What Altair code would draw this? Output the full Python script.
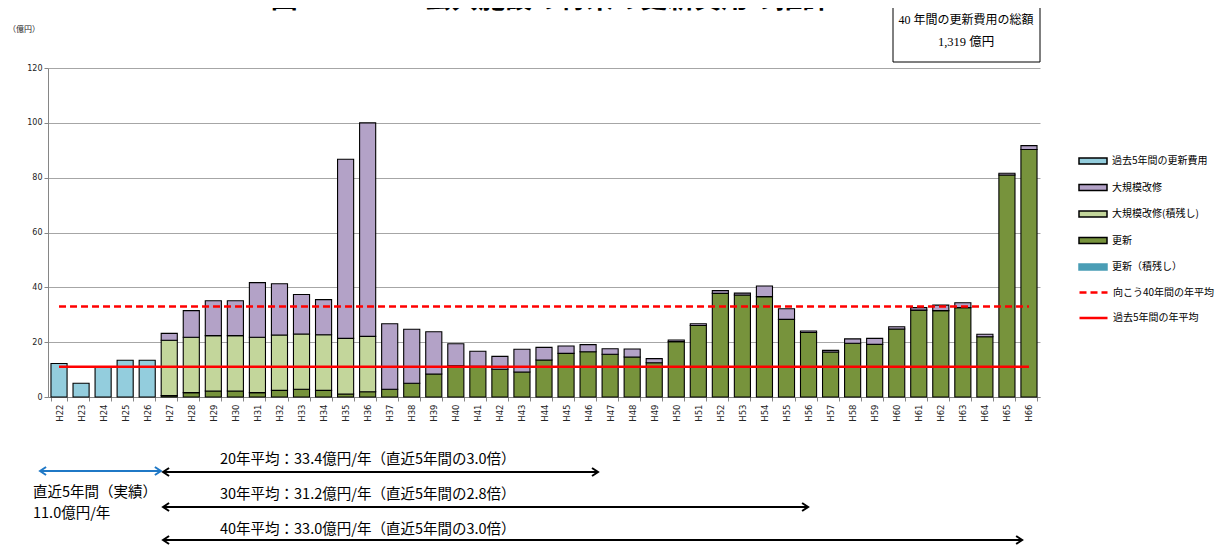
import altair as alt
import pandas as pd

JP = "Noto Sans CJK JP"
SERIF = "Liberation Serif, Noto Sans CJK JP"

years = ["H22", "H23", "H24", "H25", "H26", "H27", "H28", "H29", "H30", "H31",
         "H32", "H33", "H34", "H35", "H36", "H37", "H38", "H39", "H40", "H41",
         "H42", "H43", "H44", "H45", "H46", "H47", "H48", "H49", "H50", "H51",
         "H52", "H53", "H54", "H55", "H56", "H57", "H58", "H59", "H60", "H61",
         "H62", "H63", "H64", "H65", "H66"]
past_years = years[:5]
future_years = years[5:]
backlog_years = years[5:15]

# 過去5年間の更新費用 (H22-H26)
past_cost = [12.2, 5.0, 11.0, 13.4, 13.4]
# 更新 (H27-H66)
renewal = [0.5, 1.6, 2.2, 2.2, 1.6, 2.4, 2.8, 2.4, 1.1, 1.9,
           2.8, 5.0, 8.4, 11.4, 11.2, 10.1, 9.1, 13.5, 15.9, 16.5,
           15.6, 14.6, 12.5, 20.2, 26.1, 37.8, 37.2, 36.6, 28.3, 23.5,
           16.4, 19.6, 19.2, 24.8, 31.7, 31.5, 32.6, 22.0, 81.0, 90.3]
# 大規模改修(積残し) (H27-H36)
repair_backlog = [20.2, 20.2, 20.2, 20.2, 20.2, 20.2, 20.2, 20.3, 20.3, 20.2]
# 大規模改修 (H27-H66)
repair = [2.5, 9.7, 12.7, 12.7, 19.9, 18.7, 14.4, 12.8, 65.3, 77.9,
          23.9, 19.7, 15.4, 8.0, 5.5, 4.7, 8.3, 4.6, 2.7, 2.6,
          2.0, 2.9, 1.5, 0.6, 0.6, 1.0, 0.7, 3.9, 3.9, 0.6,
          0.6, 1.6, 2.2, 0.8, 0.9, 2.0, 1.8, 0.9, 0.6, 1.4]

series_names = ["過去5年間の更新費用", "大規模改修", "大規模改修(積残し)", "更新", "更新（積残し）"]
series_colors = ["#93CDDD", "#B3A2C7", "#C3D69B", "#77933C", "#4A9DB5"]
series_strokes = ["#000000", "#000000", "#000000", "#000000", "#4A9DB5"]
stack_rank = {"過去5年間の更新費用": 0, "更新": 1, "大規模改修(積残し)": 2, "大規模改修": 3, "更新（積残し）": 4}

line_names = ["向こう40年間の年平均", "過去5年間の年平均"]
line_values = [33.0, 11.0]

y_ticks = [0, 20, 40, 60, 80, 100, 120]

rows = []
for y, v in zip(past_years, past_cost):
    rows.append((y, series_names[0], v))
for y, v in zip(future_years, renewal):
    rows.append((y, "更新", v))
for y, v in zip(backlog_years, repair_backlog):
    rows.append((y, "大規模改修(積残し)", v))
for y, v in zip(future_years, repair):
    rows.append((y, "大規模改修", v))
df = pd.DataFrame(rows, columns=["year", "series", "value"])
df = df[df["value"] > 0]
df["rank"] = df["series"].map(stack_rank)

band = dict(domain=years, paddingInner=0.27, paddingOuter=0.135)

bar_legend = dict(title=None, orient="none", legendX=1030, legendY=78,
                  symbolType="M-1,-0.2143H1V0.2143H-1Z", symbolSize=784,
                  symbolStrokeWidth=1.5, labelFontSize=10, labelFont=JP,
                  labelColor="#000000", rowPadding=4.5, labelOffset=4)

bars = alt.Chart(df).mark_bar(strokeWidth=1.1).encode(
    x=alt.X("year:N", sort=years, scale=alt.Scale(**band),
            axis=alt.Axis(title=None, labelAngle=270, labelFontSize=8.5, labelFont="DejaVu Sans",
                          labelColor="#222222", tickBand="extent", tickSize=4, tickColor="#868686",
                          domainColor="#868686", labelPadding=3)),
    y=alt.Y("value:Q", stack="zero", scale=alt.Scale(domain=[0, 120], nice=False),
            axis=alt.Axis(title=None, values=y_ticks, labelFontSize=8, labelFont="DejaVu Sans",
                          labelColor="#222222", tickSize=4, tickColor="#868686",
                          domainColor="#868686", gridColor="#A6A6A6", labelPadding=2)),
    color=alt.Color("series:N", scale=alt.Scale(domain=series_names, range=series_colors),
                    legend=alt.Legend(**bar_legend)),
    stroke=alt.Stroke("series:N", scale=alt.Scale(domain=series_names, range=series_strokes),
                      legend=alt.Legend(**bar_legend)),
    order=alt.Order("rank:Q"),
)

avg_df = pd.DataFrame({"line": line_names, "value": line_values,
                       "start": [years[0]] * 2, "end": [years[-1]] * 2})
rules = alt.Chart(avg_df).mark_rule(color="#FF0000", strokeWidth=2.5).encode(
    x=alt.X("start:N", scale=alt.Scale(**band), axis=None),
    x2="end:N",
    y=alt.Y("value:Q", scale=alt.Scale(domain=[0, 120], nice=False)),
    strokeDash=alt.StrokeDash("line:N", scale=alt.Scale(domain=line_names, range=[[7, 4], [1, 0]]),
                              legend=alt.Legend(title=None, orient="none", legendX=1030, legendY=209,
                                                symbolType="stroke", symbolSize=784,
                                                symbolStrokeColor="#FF0000", symbolStrokeWidth=2.5,
                                                labelFontSize=10, labelFont=JP, labelColor="#000000",
                                                rowPadding=4.5, labelOffset=4)),
)

# annotation arrows, positions in "year slots" (0 = plot left edge, 45 = right edge)
arrow_scale = alt.Scale(domain=[0, 45], nice=False, zero=False)
arrows = [
    # start, end, pixel row, colour, label, label row
    (-0.36, 5.12, 403, "#1F78C6", None, None),
    (5.22, 24.95, 404, "#000000", "20年平均：33.4億円/年（直近5年間の3.0倍）", 392),
    (5.22, 34.48, 439, "#000000", "30年平均：31.2億円/年（直近5年間の2.8倍）", 427),
    (5.22, 44.19, 472, "#000000", "40年平均：33.0億円/年（直近5年間の3.0倍）", 462),
]
label_start = 7.8

layers = [bars, rules]
for x0, x1, yp, col, lab, ly in arrows:
    a = pd.DataFrame({"x0": [x0], "x1": [x1]})
    line = alt.Chart(a).mark_rule(color=col, strokeWidth=2).encode(
        x=alt.X("x0:Q", scale=arrow_scale, axis=None), x2="x1:Q", y=alt.value(yp))
    head_r = alt.Chart(a).mark_point(shape="M-1.5,-1L0,0L-1.5,1", filled=False, size=64,
                                     strokeWidth=2, color=col, opacity=1).encode(
        x=alt.X("x1:Q", scale=arrow_scale, axis=None), y=alt.value(yp))
    head_l = alt.Chart(a).mark_point(shape="M1.5,-1L0,0L1.5,1", filled=False, size=64,
                                     strokeWidth=2, color=col, opacity=1).encode(
        x=alt.X("x0:Q", scale=arrow_scale, axis=None), y=alt.value(yp))
    layers += [line, head_r, head_l]
    if lab:
        t = pd.DataFrame({"x": [label_start], "label": [lab]})
        layers.append(alt.Chart(t).mark_text(align="left", fontSize=14.5, font=JP, color="#000000").encode(
            x=alt.X("x:Q", scale=arrow_scale, axis=None), y=alt.value(ly), text="label:N"))

left_note = pd.DataFrame({"x": [-0.68, -0.68], "label": ["直近5年間（実績）", "11.0億円/年"]})
for i, yy in enumerate([425, 446]):
    layers.append(alt.Chart(left_note.iloc[[i]]).mark_text(align="left", fontSize=14.5, font=JP,
                                                           color="#000000").encode(
        x=alt.X("x:Q", scale=arrow_scale, axis=None), y=alt.value(yy), text="label:N"))

unit = alt.Chart(pd.DataFrame({"t": ["（億円）"]})).mark_text(
    align="left", fontSize=8, font=JP, color="#222222").encode(
    x=alt.value(-40), y=alt.value(-38), text="t:N")

title = alt.Chart(pd.DataFrame({"t": ["図 15.5.1 ― 公共施設の将来の更新費用の推計"]})).mark_text(
    align="center", baseline="bottom", fontSize=27, fontWeight="bold", font=JP, color="#000000").encode(
    x=alt.value(502), y=alt.value(-54), text="t:N")

box = alt.Chart(pd.DataFrame({"a": [1]})).mark_rect(fill="white", stroke="#000000", strokeWidth=1).encode(
    x=alt.value(845), x2=alt.value(992), y=alt.value(-65), y2=alt.value(-6))
box_text = alt.Chart(pd.DataFrame({"t": ["40 年間の更新費用の総額", "1,319 億円"], "k": [0, 1]}))
bt1 = box_text.transform_filter("datum.k == 0").mark_text(fontSize=12, font=SERIF, color="#000000").encode(
    x=alt.value(918), y=alt.value(-48), text="t:N")
bt2 = box_text.transform_filter("datum.k == 1").mark_text(fontSize=12.5, font=SERIF, color="#000000").encode(
    x=alt.value(918), y=alt.value(-26), text="t:N")

layers += [unit, title, box, bt1, bt2]

chart = alt.layer(*layers).resolve_scale(x="independent").properties(
    width=992, height=329,
    autosize=alt.AutoSizeParams(type="none"),
    padding={"left": 40, "top": 60, "right": 184, "bottom": 150},
).configure_view(stroke=None).configure_axis(grid=False).configure_axisY(grid=True)

chart.save("out.html", embed_options={"renderer": "svg", "actions": False})
